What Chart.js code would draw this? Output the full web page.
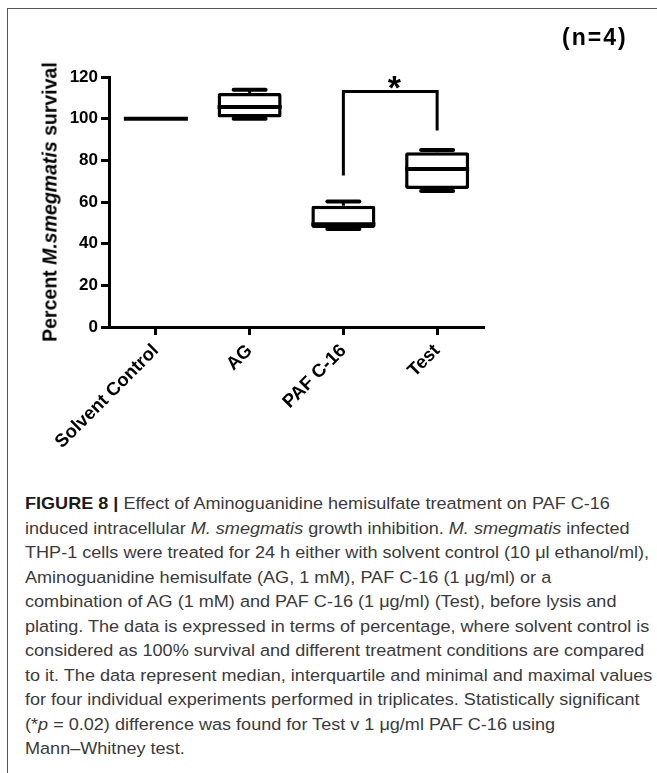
<!DOCTYPE html>
<html>
<head>
<meta charset="utf-8">
<script src="https://cdn.jsdelivr.net/npm/chart.js@4.4.1/dist/chart.umd.min.js"></script>
<style>
  body { margin: 0; background: #fff; width: 657px; height: 773px; overflow: hidden; position: relative; font-family: "Liberation Sans", Arial, sans-serif; }
  #frame { position: absolute; left: 7px; top: 8px; width: 700px; height: 800px; border-top: 1px solid #555; border-left: 1px solid #555; }
  #chart { position: absolute; left: 0; top: 0; }
  #ytitle { position: absolute; left: 50px; top: 202px; transform: translate(-50%, -50%) rotate(-90deg); font-weight: bold; font-size: 19.5px; white-space: nowrap; color: #000; }
  #nlabel { position: absolute; left: 562px; top: 24px; font-weight: bold; font-size: 23px; letter-spacing: 2px; color: #000; }
  #caption { position: absolute; left: 25px; top: 491px; font-size: 16.3px; line-height: 24.5px; color: #3a3a3a; white-space: nowrap; transform-origin: 0 0; }
  #caption b { color: #1a1a1a; }
</style>
</head>
<body>
<div id="frame"></div>
<canvas id="chart" width="657" height="470"></canvas>
<div id="ytitle">Percent <i>M.smegmatis</i> survival</div>
<div id="nlabel">(n=4)</div>
<div id="caption">
  <div><b>FIGURE 8 |</b> Effect of Aminoguanidine hemisulfate treatment on PAF C-16</div>
  <div>induced intracellular <i>M. smegmatis</i> growth inhibition. <i>M. smegmatis</i> infected</div>
  <div><span id="refline">THP-1 cells were treated for 24 h either with solvent control (10 μl ethanol/ml),</span></div>
  <div>Aminoguanidine hemisulfate (AG, 1 mM), PAF C-16 (1 μg/ml) or a</div>
  <div>combination of AG (1 mM) and PAF C-16 (1 μg/ml) (Test), before lysis and</div>
  <div>plating. The data is expressed in terms of percentage, where solvent control is</div>
  <div>considered as 100% survival and different treatment conditions are compared</div>
  <div>to it. The data represent median, interquartile and minimal and maximal values</div>
  <div>for four individual experiments performed in triplicates. Statistically significant</div>
  <div>(*<i>p</i> = 0.02) difference was found for Test v 1 μg/ml PAF C-16 using</div>
  <div>Mann–Whitney test.</div>
</div>
<script>
// values (percent survival)
var categories = ['Solvent Control', 'AG', 'PAF C-16', 'Test'];
var minVals = [100, 100, 47, 65.3];
var q1Vals = [100, 100.6, 47.5, 66.3];
var medianVals = [100, 105.6, 49.3, 75.9];
var q3Vals = [100, 112.3, 58.2, 83.9];
var maxVals = [100, 113.9, 60.2, 85];

// significance bracket: PAF C-16 vs Test
var sigPair = [2, 3];
var sigLegs = [72.7, 94.3];
var sigTop = 113.1;
var sigLabel = '*';

var fontFamily = '"Liberation Sans", Arial, sans-serif';

function line(ctx, x1, y1, x2, y2) {
    ctx.beginPath();
    ctx.moveTo(x1, y1);
    ctx.lineTo(x2, y2);
    ctx.stroke();
}

// medians, whiskers and the significance bracket
var boxPlotLines = {
    id: 'boxPlotLines',
    afterDatasetsDraw: function(chart) {
        var ctx = chart.ctx;
        var y = chart.scales.y;
        var x = chart.scales.x;
        var bars = chart.getDatasetMeta(0).data;

        ctx.save();
        ctx.strokeStyle = '#000';
        bars.forEach(function(bar, i) {
            var half = bar.width / 2;
            var capHalf = bar.width / 4;
            var yMed = y.getPixelForValue(medianVals[i]);

            ctx.lineCap = 'butt';
            ctx.lineWidth = 4;
            line(ctx, bar.x - half, yMed, bar.x + half, yMed);

            ctx.lineWidth = 3;
            line(ctx, bar.x, y.getPixelForValue(q3Vals[i]), bar.x, y.getPixelForValue(maxVals[i]));
            line(ctx, bar.x, y.getPixelForValue(q1Vals[i]), bar.x, y.getPixelForValue(minVals[i]));

            if (maxVals[i] !== minVals[i]) {
                ctx.lineCap = 'round';
                ctx.lineWidth = 4;
                line(ctx, bar.x - capHalf, y.getPixelForValue(maxVals[i]), bar.x + capHalf, y.getPixelForValue(maxVals[i]));
                line(ctx, bar.x - capHalf, y.getPixelForValue(minVals[i]), bar.x + capHalf, y.getPixelForValue(minVals[i]));
            }
        });

        var xa = x.getPixelForValue(sigPair[0]);
        var xb = x.getPixelForValue(sigPair[1]);
        var yTop = y.getPixelForValue(sigTop);
        ctx.lineCap = 'butt';
        ctx.lineJoin = 'miter';
        ctx.lineWidth = 3;
        ctx.beginPath();
        ctx.moveTo(xa, y.getPixelForValue(sigLegs[0]));
        ctx.lineTo(xa, yTop);
        ctx.lineTo(xb, yTop);
        ctx.lineTo(xb, y.getPixelForValue(sigLegs[1]));
        ctx.stroke();

        ctx.fillStyle = '#000';
        ctx.font = 'bold 34px ' + fontFamily;
        ctx.textAlign = 'center';
        ctx.textBaseline = 'alphabetic';
        ctx.fillText(sigLabel, (xa + xb) / 2 + 4, yTop + 8);
        ctx.restore();
    }
};

new Chart(document.getElementById('chart'), {
    type: 'bar',
    data: {
        labels: categories,
        datasets: [{
            data: categories.map(function(c, i) { return [q1Vals[i], q3Vals[i]]; }),
            backgroundColor: '#fff',
            borderColor: '#000',
            borderWidth: 3.5,
            borderSkipped: false,
            borderRadius: 2,
            barPercentage: 0.683,
            categoryPercentage: 1
        }]
    },
    options: {
        responsive: false,
        animation: false,
        layout: { padding: { left: 49, top: 77, right: 173, bottom: 13 } },
        plugins: { legend: { display: false }, tooltip: { enabled: false } },
        scales: {
            x: {
                grid: { offset: false, drawOnChartArea: false, drawTicks: true, tickLength: 8, tickWidth: 3, tickColor: '#000' },
                border: { display: true, color: '#000', width: 3 },
                ticks: {
                    color: '#000',
                    font: { family: fontFamily, size: 18.5, weight: 'bold' },
                    minRotation: 45,
                    maxRotation: 45,
                    autoSkip: false,
                    padding: 5
                },
                afterFit: function(scale) { scale.height = 130; }
            },
            y: {
                min: 0,
                max: 120,
                grid: { drawOnChartArea: false, drawTicks: true, tickLength: 8, tickWidth: 3, tickColor: '#000' },
                border: { display: true, color: '#000', width: 3 },
                ticks: {
                    stepSize: 20,
                    color: '#000',
                    font: { family: fontFamily, size: 17, weight: 'bold' },
                    padding: 3
                },
                afterFit: function(scale) { scale.width = 60; }
            }
        }
    },
    plugins: [boxPlotLines]
});

// squeeze the caption to the width of the printed lines
var refWidth = document.getElementById('refline').getBoundingClientRect().width;
document.getElementById('caption').style.transform = 'scaleX(' + (624 / refWidth) + ')';
</script>
</body>
</html>
